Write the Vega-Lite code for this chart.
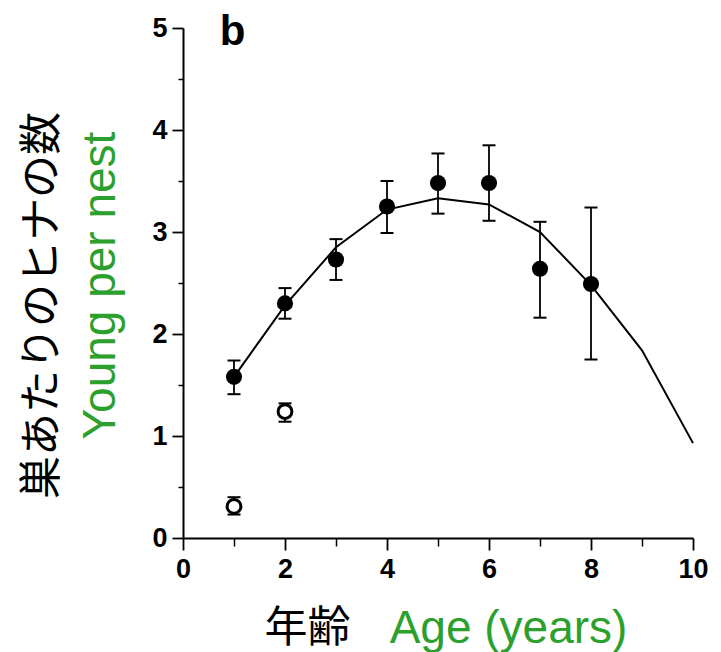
{
  "$schema": "https://vega.github.io/schema/vega-lite/v6.json",
  "width": 510,
  "height": 510,
  "autosize": {"type": "none"},
  "padding": {"left": 183, "top": 28, "right": 28, "bottom": 114},
  "config": {"view": {"stroke": null}, "font": "Liberation Sans", "background": "white"},
  "datasets": {
    "points": [
      {"age": 1, "group": "filled", "mean": 1.58, "lo": 1.41, "hi": 1.74},
      {"age": 2, "group": "filled", "mean": 2.30, "lo": 2.15, "hi": 2.45},
      {"age": 3, "group": "filled", "mean": 2.73, "lo": 2.53, "hi": 2.93},
      {"age": 4, "group": "filled", "mean": 3.25, "lo": 2.99, "hi": 3.50},
      {"age": 5, "group": "filled", "mean": 3.48, "lo": 3.18, "hi": 3.77},
      {"age": 6, "group": "filled", "mean": 3.48, "lo": 3.11, "hi": 3.85},
      {"age": 7, "group": "filled", "mean": 2.64, "lo": 2.16, "hi": 3.10},
      {"age": 8, "group": "filled", "mean": 2.49, "lo": 1.75, "hi": 3.24},
      {"age": 1, "group": "open", "mean": 0.31, "lo": 0.23, "hi": 0.40},
      {"age": 2, "group": "open", "mean": 1.24, "lo": 1.14, "hi": 1.32}
    ],
    "curve": [
      {"age": 1, "fit": 1.58},
      {"age": 2, "fit": 2.28},
      {"age": 3, "fit": 2.85},
      {"age": 4, "fit": 3.22},
      {"age": 5, "fit": 3.33},
      {"age": 6, "fit": 3.27},
      {"age": 7, "fit": 3.00},
      {"age": 8, "fit": 2.48},
      {"age": 9, "fit": 1.84},
      {"age": 10, "fit": 0.93}
    ]
  },
  "layer": [
    {
      "data": {"name": "curve"},
      "mark": {"type": "line", "color": "black", "strokeWidth": 2},
      "encoding": {
        "x": {
          "field": "age", "type": "quantitative",
          "scale": {"domain": [0, 10], "nice": false, "zero": false},
          "axis": {
            "orient": "bottom", "values": [1, 3, 5, 7, 9], "labels": false, "domain": false, "grid": false,
            "tickSize": 8, "tickColor": "black", "tickWidth": 1.5, "tickOpacity": 1,
            "title": "Age (years)", "titleColor": "#2ca02c", "titleFont": "Liberation Sans",
            "titleFontSize": 46, "titleFontWeight": "normal",
            "titleX": 325, "titleY": 90, "titleAlign": "center", "titleBaseline": "middle"
          }
        },
        "y": {
          "field": "fit", "type": "quantitative",
          "scale": {"domain": [0, 5], "nice": false, "zero": false},
          "axis": {
            "orient": "left", "values": [0.5, 1.5, 2.5, 3.5, 4.5], "labels": false, "domain": false, "grid": false,
            "tickSize": 5, "tickColor": "black", "tickWidth": 1.5, "tickOpacity": 1,
            "title": "Young per nest", "titleColor": "#2ca02c", "titleFont": "Liberation Sans",
            "titleFontSize": 46, "titleFontWeight": "normal", "titleAngle": -90,
            "titleX": -83, "titleY": 257, "titleAlign": "center", "titleBaseline": "middle"
          }
        }
      }
    },
    {
      "layer": [
        {
          "data": {"name": "points"},
          "mark": {
            "type": "errorbar",
            "color": "black",
            "opacity": 1,
            "ticks": {"size": 13, "thickness": 2, "color": "black", "opacity": 1},
            "rule": {"strokeWidth": 1.8, "color": "black", "opacity": 1}
          },
          "encoding": {
            "x": {
              "field": "age", "type": "quantitative",
              "scale": {"domain": [0, 10], "nice": false, "zero": false},
              "title": "年齢",
              "axis": {
                "orient": "bottom", "values": [0, 2, 4, 6, 8, 10], "grid": false, "format": "d",
                "domain": true, "domainColor": "black", "domainWidth": 2, "domainOpacity": 1,
                "tickSize": 12, "tickColor": "black", "tickWidth": 1.8, "tickOpacity": 1,
                "labelFont": "Liberation Sans", "labelFontSize": 27, "labelFontWeight": "bold", "labelColor": "black",
                "labelPadding": 6, "labelFlush": false,
                "titleColor": "black", "titleFont": "Noto Sans CJK JP",
                "titleFontSize": 43, "titleFontWeight": "normal",
                "titleX": 124, "titleY": 90, "titleAlign": "center", "titleBaseline": "middle"
              }
            },
            "y": {
              "field": "lo", "type": "quantitative",
              "scale": {"domain": [0, 5], "nice": false, "zero": false},
              "title": "巣あたりのヒナの数",
              "axis": {
                "orient": "left", "values": [0, 1, 2, 3, 4, 5], "grid": false, "format": "d",
                "domain": true, "domainColor": "black", "domainWidth": 2, "domainOpacity": 1,
                "tickSize": 11, "tickColor": "black", "tickWidth": 1.8, "tickOpacity": 1,
                "labelFont": "Liberation Sans", "labelFontSize": 27, "labelFontWeight": "bold", "labelColor": "black",
                "labelPadding": 5, "labelFlush": false,
                "titleColor": "black", "titleFont": "Noto Sans CJK JP",
                "titleFontSize": 43, "titleFontWeight": "normal", "titleAngle": -90,
                "titleX": -141, "titleY": 277, "titleAlign": "center", "titleBaseline": "middle"
              }
            },
            "y2": {"field": "hi"}
          }
        },
        {
          "data": {"name": "points"},
          "transform": [{"filter": "datum.group === 'filled'"}],
          "mark": {"type": "point", "filled": true, "color": "black", "size": 260, "opacity": 1},
          "encoding": {
            "x": {"field": "age", "type": "quantitative", "title": "年齢"},
            "y": {"field": "mean", "type": "quantitative", "title": "巣あたりのヒナの数"}
          }
        },
        {
          "data": {"name": "points"},
          "transform": [{"filter": "datum.group === 'open'"}],
          "mark": {"type": "point", "filled": false, "fill": "white", "fillOpacity": 1, "stroke": "black", "strokeWidth": 3, "size": 190, "opacity": 1},
          "encoding": {
            "x": {"field": "age", "type": "quantitative", "title": "年齢"},
            "y": {"field": "mean", "type": "quantitative", "title": "巣あたりのヒナの数"}
          }
        },
        {
          "data": {"values": [{"label": "b"}]},
          "mark": {"type": "text", "font": "Liberation Sans", "fontSize": 42, "fontWeight": "bold", "align": "left", "baseline": "alphabetic", "color": "black"},
          "encoding": {
            "x": {"datum": 0.72, "type": "quantitative"},
            "y": {"datum": 4.83, "type": "quantitative"},
            "text": {"field": "label"}
          }
        }
      ]
    }
  ],
  "resolve": {"scale": {"x": "independent", "y": "independent"}}
}
